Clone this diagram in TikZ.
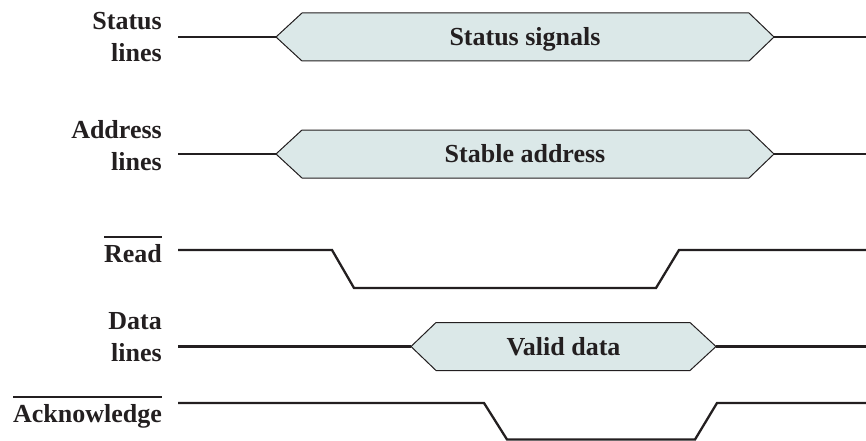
\documentclass[tikz,border=0pt]{standalone}
\usepackage{fontspec}
\setmainfont{Liberation Serif}
\definecolor{ink}{RGB}{35,31,32}
\definecolor{busfill}{RGB}{219,232,232}
\newcommand\ovlbar[1]{\vbox{\hrule height 1.3pt\kern 6.2pt\hbox{#1}}}
\begin{document}
\begin{tikzpicture}[x=1pt,y=-1pt,
  lbl/.style={font=\fontsize{26}{32}\selectfont\bfseries, text=ink, inner sep=0pt, align=right},
  sig/.style={draw=ink, line width=2.3pt, line join=miter},
  bus/.style={draw=ink, line width=1pt, fill=busfill, line join=miter},
  bustext/.style={font=\fontsize{26}{32}\selectfont\bfseries, text=ink, inner sep=0pt, anchor=base}]
\useasboundingbox (0,0) rectangle (866,441);

% Status lines
\node[lbl, anchor=north east] (stl) at (162,12.4) {Status\\lines};
\coordinate (s0) at (178,37);
\coordinate (s1) at (276,37);
\coordinate (s2) at (302,13);
\coordinate (s3) at (749,13);
\coordinate (s4) at (774,37);
\coordinate (s5) at (749,61);
\coordinate (s6) at (302,61);
\coordinate (s7) at (866,37);
\path[bus] (s1)--(s2)--(s3)--(s4)--(s5)--(s6)--cycle;
\draw[sig] (s0)--(s1);
\draw[sig] (s4)--(s7);
\node[bustext] (stt) at (525,45.5) {Status signals};

% Address lines
\node[lbl, anchor=north east] (adl) at (162,120.4) {Address\\lines};
\coordinate (d0) at (178,154);
\coordinate (d1) at (276,154);
\coordinate (d2) at (302,130);
\coordinate (d3) at (749,130);
\coordinate (d4) at (774,154);
\coordinate (d5) at (749,178);
\coordinate (d6) at (302,178);
\coordinate (d7) at (866,154);
\path[bus] (d1)--(d2)--(d3)--(d4)--(d5)--(d6)--cycle;
\draw[sig] (d0)--(d1);
\draw[sig] (d4)--(d7);
\node[bustext] (adt) at (525,162.5) {Stable address};

% Read
\node[lbl, anchor=base east] (rdl) at (162,262) {\ovlbar{Read}};
\coordinate (r0) at (178,250);
\coordinate (r1) at (332,250);
\coordinate (r2) at (354,288);
\coordinate (r3) at (656,288);
\coordinate (r4) at (679,250);
\coordinate (r5) at (866,250);
\draw[sig] (r0)--(r1)--(r2)--(r3)--(r4)--(r5);

% Data lines
\node[lbl, anchor=north east] (dtl) at (162,312.4) {Data\\lines};
\coordinate (v0) at (178,346.5);
\coordinate (v1) at (411,346.5);
\coordinate (v2) at (436,322.5);
\coordinate (v3) at (690,322.5);
\coordinate (v4) at (716,346.5);
\coordinate (v5) at (690,370.5);
\coordinate (v6) at (436,370.5);
\coordinate (v7) at (866,346.5);
\path[bus] (v1)--(v2)--(v3)--(v4)--(v5)--(v6)--cycle;
\draw[sig] (v0)--(v1);
\draw[sig] (v4)--(v7);
\node[bustext] (dtt) at (563.5,355) {Valid data};

% Acknowledge
\node[lbl, anchor=base east] (akl) at (162,422) {\ovlbar{Acknowledge}};
\coordinate (a0) at (178,403);
\coordinate (a1) at (484,403);
\coordinate (a2) at (507,439.5);
\coordinate (a3) at (695,439.5);
\coordinate (a4) at (717,403);
\coordinate (a5) at (866,403);
\draw[sig] (a0)--(a1)--(a2)--(a3)--(a4)--(a5);
\end{tikzpicture}
\end{document}
